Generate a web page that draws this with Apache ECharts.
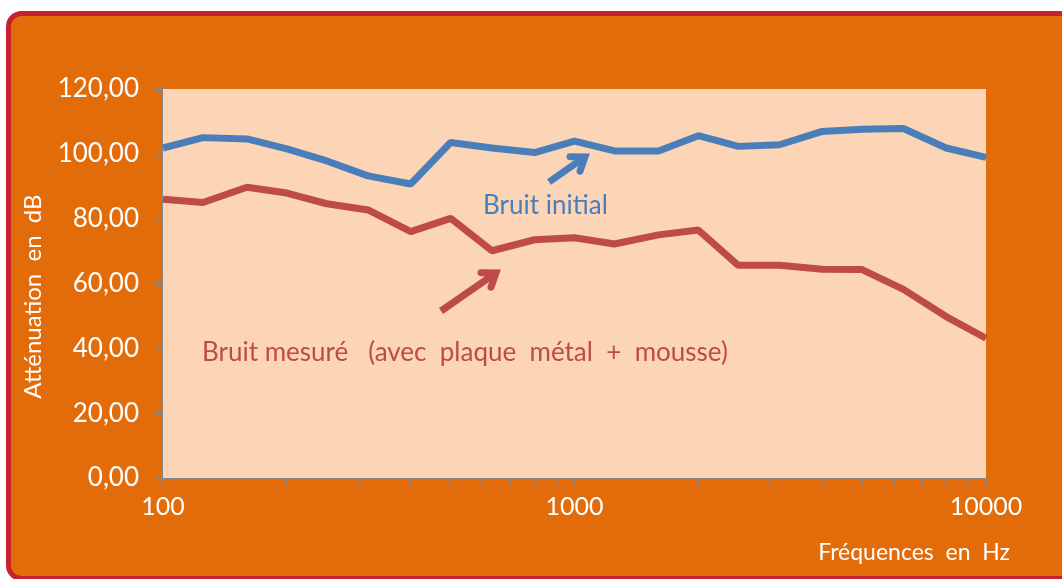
<!DOCTYPE html>
<html>
<head>
<meta charset="utf-8">
<script src="https://cdn.jsdelivr.net/npm/echarts@6/dist/echarts.min.js"></script>
<style>
html,body{margin:0;padding:0;background:#fff;}
#chart{width:1062px;height:579px;}
</style>
</head>
<body>
<div id="chart"></div>
<script>
// Data (third-octave frequencies, Hz)
const frequencies = [100,125,160,200,250,315,400,500,630,800,1000,1250,1600,2000,2500,3150,4000,5000,6300,8000,10000];
const bruitInitial = [101.8,105.0,104.6,101.5,97.8,93.2,90.7,103.5,101.8,100.4,103.9,100.9,100.9,105.6,102.3,102.8,106.9,107.6,107.8,101.8,98.9];
const bruitMesure = [86.0,85.0,89.7,87.9,84.6,82.7,76.0,80.1,70.1,73.5,74.1,72.2,75.0,76.5,65.6,65.6,64.4,64.3,58.2,49.8,43.1];
const xTickValues = [100,200,300,400,500,600,700,800,900,1000,2000,3000,4000,5000,6000,7000,8000,9000,10000];
const xLabelValues = [100,1000,10000];
const seriesNames = ['Bruit initial','Bruit mesuré   (avec  plaque  métal  +  mousse)'];

const FONT = 'Lato';
const chart = echarts.init(document.getElementById('chart'));

function arrow(x1,y1,x2,y2,color){
  const dx=x2-x1, dy=y2-y1, L=Math.hypot(dx,dy), ux=dx/L, uy=dy/L;
  const hl=15, a=Math.PI*0.2;
  const cos=Math.cos(a), sin=Math.sin(a);
  const w1=[x2-hl*(ux*cos-uy*sin), y2-hl*(uy*cos+ux*sin)];
  const w2=[x2-hl*(ux*cos+uy*sin), y2-hl*(uy*cos-ux*sin)];
  return [
    {type:'polyline', z:100, shape:{points:[[x1,y1],[x2-ux*3,y2-uy*3]]}, style:{stroke:color,lineWidth:7,fill:null,lineCap:'butt'}},
    {type:'polyline', z:100, shape:{points:[w1,[x2,y2],w2]}, style:{stroke:color,lineWidth:7,fill:null,lineJoin:'miter',lineCap:'round'}}
  ];
}

const option = {
  backgroundColor:'#ffffff',
  animation:false,
  grid:{left:163, top:89, right:76, bottom:101, show:true, backgroundColor:'#FBD5B5', borderWidth:0, z:2},
  xAxis:{
    type:'log', min:100, max:10000, logBase:10,
    name:'Fréquences  en  Hz', nameLocation:'end', nameGap:24,
    nameTextStyle:{color:'#fff', fontFamily:FONT, fontSize:23, align:'right', verticalAlign:'top', padding:[63,0,0,0]},
    axisLine:{show:true, onZero:false, lineStyle:{color:'#868686', width:3}},
    axisTick:{show:true, length:8, lineStyle:{color:'#868686', width:2}, customValues:xTickValues},
    axisLabel:{color:'#fff', fontFamily:FONT, fontSize:25, margin:16, customValues:xLabelValues, formatter:v=>String(Math.round(v))},
    splitLine:{show:false}, minorTick:{show:false}
  },
  yAxis:{
    type:'value', min:0, max:120, interval:20,
    name:'Atténuation  en  dB', nameLocation:'middle', nameGap:118, nameRotate:90,
    nameTextStyle:{color:'#fff', fontFamily:FONT, fontSize:24, padding:[0,0,0,-26]},
    axisLine:{show:true, lineStyle:{color:'#868686', width:3}},
    axisTick:{show:true, length:8, lineStyle:{color:'#868686', width:3}},
    axisLabel:{color:'#fff', fontFamily:FONT, fontSize:26, margin:24, formatter:v=>v.toFixed(2).replace('.',',')},
    splitLine:{show:false}
  },
  series:[
    {name:seriesNames[0], type:'line', data:frequencies.map((f,i)=>[f,bruitInitial[i]]), showSymbol:false, lineStyle:{color:'#4A7EBB', width:7}, itemStyle:{color:'#4A7EBB'}, z:5},
    {name:seriesNames[1], type:'line', data:frequencies.map((f,i)=>[f,bruitMesure[i]]), showSymbol:false, lineStyle:{color:'#BE4B48', width:7}, itemStyle:{color:'#BE4B48'}, z:5}
  ],
  graphic:[
    {type:'rect', z:-100, silent:true, shape:{x:8.5,y:13.5,width:1080,height:565,r:13}, style:{fill:'#E36C0A', stroke:'#C8202F', lineWidth:5}},
    {type:'text', z:100, left:483, top:193, style:{text:seriesNames[0], fill:'#4A7EBB', font:'26px '+FONT}},
    {type:'text', z:100, left:202, top:340, style:{text:seriesNames[1], fill:'#BE4B48', font:'26px '+FONT}},
    ...arrow(549,182,585,157,'#4A7EBB'),
    ...arrow(441,311,496,273,'#BE4B48')
  ]
};
chart.setOption(option);
</script>
</body>
</html>
